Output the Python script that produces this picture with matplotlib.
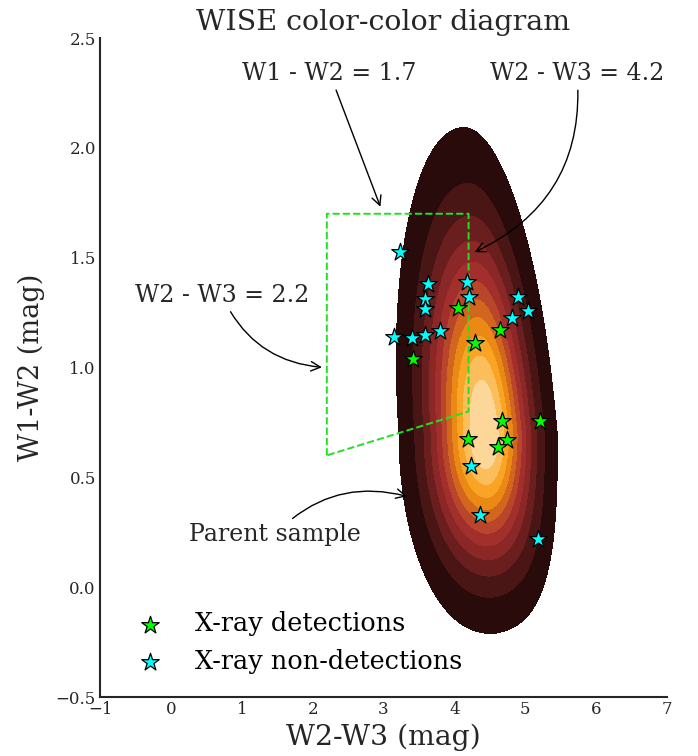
import matplotlib
matplotlib.use("Agg")
import matplotlib.pyplot as plt
import numpy as np

plt.rcParams['font.family'] = ['DejaVu Serif']

# X-ray detected sources (W2-W3, W1-W2)
det_w23 = [4.05, 4.64, 4.29, 3.41, 4.67, 5.21, 4.19, 4.74, 4.61]
det_w12 = [1.27, 1.17, 1.11, 1.04, 0.755, 0.755, 0.675, 0.67, 0.64]

# X-ray non-detections
nondet_w23 = [3.23, 3.63, 3.58, 3.58, 4.18, 4.20, 4.90, 5.04, 4.81,
              3.15, 3.40, 3.58, 3.80, 4.23, 4.36, 5.18]
nondet_w12 = [1.525, 1.38, 1.31, 1.265, 1.39, 1.32, 1.32, 1.256, 1.224,
              1.138, 1.133, 1.15, 1.165, 0.55, 0.33, 0.22]

# AGN wedge (W2-W3 = 2.2, W2-W3 = 4.2, W1-W2 = 1.7)
wedge_x = [2.2, 2.2, 4.2, 4.2, 2.2]
wedge_y = [0.6, 1.7, 1.7, 0.8, 0.6]

# parent sample density: skewed bump
peak_w23, peak_w12 = 4.44, 0.70
sig_left, sig_right = 0.50, 0.41
sig_down, sig_up = 0.37, 0.57
drift = -0.22   # shift of the W2-W3 centre per mag of W1-W2 above the peak
# small extra bump at the lower right of the cloud
bump_w23, bump_w12, bump_sx, bump_sy, bump_amp = 5.0, 0.22, 0.28, 0.25, 0.06

band_colors = ['#2a0b0b', '#4a1515', '#6b1e1e', '#8b2727', '#a32f2d', '#b9452a',
               '#d2661f', '#ea8a15', '#f9a424', '#fcbe5a', '#fdd69a']

gx, gy = np.meshgrid(np.linspace(2.0, 7.0, 500), np.linspace(-1.0, 3.0, 500))
cx = peak_w23 + drift * np.clip(gy - peak_w12, 0, None)
sx = np.where(gx < cx, sig_left, sig_right)
sy = np.where(gy > peak_w12, sig_up, sig_down)
dens = np.exp(-0.5 * (((gx - cx) / sx) ** 2 + ((gy - peak_w12) / sy) ** 2))
dens += bump_amp * np.exp(-0.5 * (((gx - bump_w23) / bump_sx) ** 2 + ((gy - bump_w12) / bump_sy) ** 2))

# iso-proportion levels, like seaborn's kdeplot
vals = np.sort(dens.ravel())
cum = np.cumsum(vals)
cum /= cum[-1]
levels = [vals[np.searchsorted(cum, q)] for q in np.linspace(0.05, 1, 12)[:-1]]
levels.append(dens.max() * 1.001)

fig = plt.figure(figsize=(6.98, 7.56), dpi=100)
ax = fig.add_axes([0.1433, 0.078, 0.8123, 0.8717])

ax.contourf(gx, gy, dens, levels=levels, colors=band_colors)

ax.plot(wedge_x, wedge_y, '--', color='#22e022', lw=1.4)

ax.scatter(det_w23, det_w12, marker='*', s=175, c='lime', edgecolors='k',
           linewidths=0.9, zorder=5, label='X-ray detections')
ax.scatter(nondet_w23, nondet_w12, marker='*', s=175, c='cyan', edgecolors='k',
           linewidths=0.9, zorder=5, label='X-ray non-detections')

arr = dict(arrowstyle='->', color='k', lw=1.0)
ax.annotate('W1 - W2 = 1.7', xy=(2.97, 1.72), xytext=(2.24, 2.34), fontsize=17,
            ha='center', va='center', color='#262626',
            arrowprops=dict(arr, connectionstyle='arc3,rad=0'))
ax.annotate('W2 - W3 = 4.2', xy=(4.25, 1.52), xytext=(5.73, 2.34), fontsize=17,
            ha='center', va='center', color='#262626',
            arrowprops=dict(arr, connectionstyle='arc3,rad=-0.35'))
ax.annotate('W2 - W3 = 2.2', xy=(2.17, 1.0), xytext=(0.72, 1.33), fontsize=17,
            ha='center', va='center', color='#262626',
            arrowprops=dict(arr, connectionstyle='arc3,rad=0.3'))
ax.annotate('Parent sample', xy=(3.37, 0.41), xytext=(1.47, 0.24), fontsize=17,
            ha='center', va='center', color='#262626',
            arrowprops=dict(arr, connectionstyle='arc3,rad=-0.3'))

ax.set_xlim(-1, 7)
ax.set_ylim(-0.5, 2.5)
ax.set_xticks(range(-1, 8))
ax.set_yticks([-0.5, 0.0, 0.5, 1.0, 1.5, 2.0, 2.5])
ax.tick_params(length=0, labelsize=12, pad=3, labelcolor='#262626')
for s in ['top', 'right']:
    ax.spines[s].set_visible(False)
for s in ['left', 'bottom']:
    ax.spines[s].set_linewidth(1.5)
    ax.spines[s].set_color('#262626')

ax.set_xlabel('W2-W3 (mag)', fontsize=20.3, color='#262626', labelpad=4)
ax.set_ylabel('W1-W2 (mag)', fontsize=19.5, color='#262626', labelpad=7.5)
ax.set_title('WISE color-color diagram', fontsize=20.5, color='#262626', pad=6)

ax.legend(loc='lower left', bbox_to_anchor=(0.003, 0.0), frameon=False, fontsize=18.4,
          scatterpoints=1, labelspacing=0.5, handletextpad=0.75)

fig.savefig('out.png', dpi=100)
